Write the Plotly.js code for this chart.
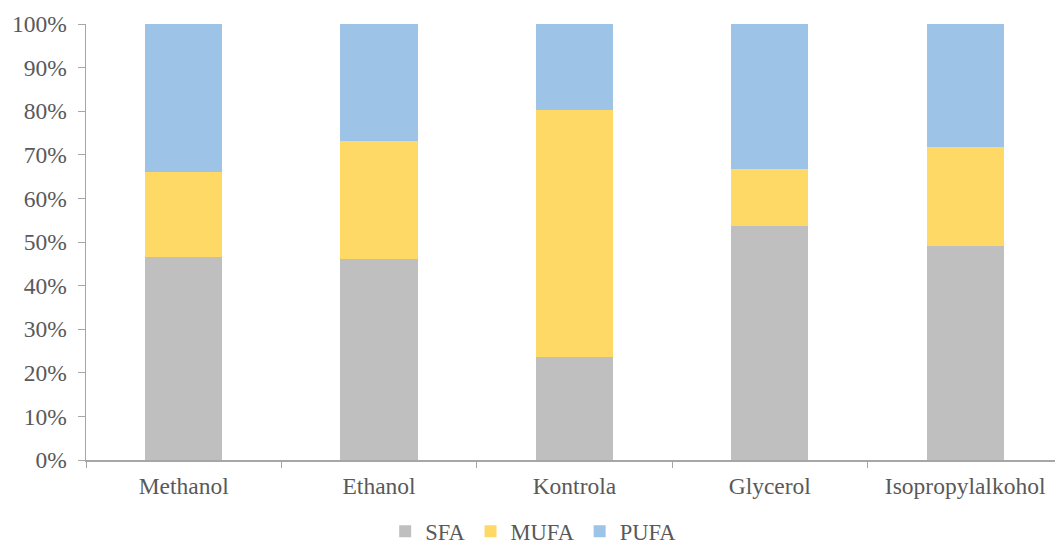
<!DOCTYPE html>
<html>
<head>
<meta charset="utf-8">
<script src="https://cdn.plot.ly/plotly-3.0.1.min.js"></script>
<style>html,body{margin:0;padding:0;background:#fff;}#chart{width:1055px;height:544px;}</style>
</head>
<body>
<div id="chart"></div>
<script>
const categories = ["Methanol", "Ethanol", "Kontrola", "Glycerol", "Isopropylalkohol"];
const sfa  = [46.6, 46.0, 23.7, 53.7, 49.1];
const mufa = [19.5, 27.1, 56.6, 13.0, 22.8];
const pufa = [33.9, 26.9, 19.7, 33.3, 28.1];
const yTickVals = [0, 10, 20, 30, 40, 50, 60, 70, 80, 90, 100];
const yTickText = ["0%", "10%", "20%", "30%", "40%", "50%", "60%", "70%", "80%", "90%", "100%"];

const font = {family: "'Liberation Serif', 'Times New Roman', serif", size: 23.5, color: "#595959"};
const legendFont = {family: "'Liberation Serif', 'Times New Roman', serif", size: 22.5, color: "#595959"};
function mk(name, vals, color) {
  return {type: "bar", name: name, x: categories, y: vals,
    marker: {color: color, line: {width: 0}}, hoverinfo: "skip"};
}
const data = [
  mk("SFA", sfa, "#BFBFBF"),
  mk("MUFA", mufa, "#FFD966"),
  mk("PUFA", pufa, "#9DC3E6")
];
const layout = {
  width: 1055, height: 544,
  margin: {l: 86, r: 0, t: 24, b: 84, autoexpand: false},
  barmode: "stack",
  bargap: 0.605,
  paper_bgcolor: "#fff", plot_bgcolor: "#fff",
  font: font,
  showlegend: true,
  legend: {orientation: "h", x: 0.462, xanchor: "center", y: -0.164, yanchor: "middle",
    font: legendFont, traceorder: "normal", itemwidth: 30},
  xaxis: {type: "category", range: [-0.5, 4.46], showline: true, linecolor: "#a6a6a6", linewidth: 1.5,
    ticks: "outside", tickson: "boundaries", ticklen: 6, tickcolor: "#a6a6a6",
    showgrid: false, zeroline: false, tickfont: font, ticklabelstandoff: 4, automargin: false, fixedrange: true},
  yaxis: {range: [0, 100], tickvals: yTickVals, ticktext: yTickText, showline: true,
    linecolor: "#a6a6a6", linewidth: 1.5, ticks: "outside", ticklen: 7, tickcolor: "#a6a6a6",
    showgrid: false, zeroline: false, tickfont: font, ticklabelstandoff: 6, automargin: false, fixedrange: true}
};
Plotly.newPlot("chart", data, layout, {displayModeBar: false, staticPlot: true});
</script>
</body>
</html>
